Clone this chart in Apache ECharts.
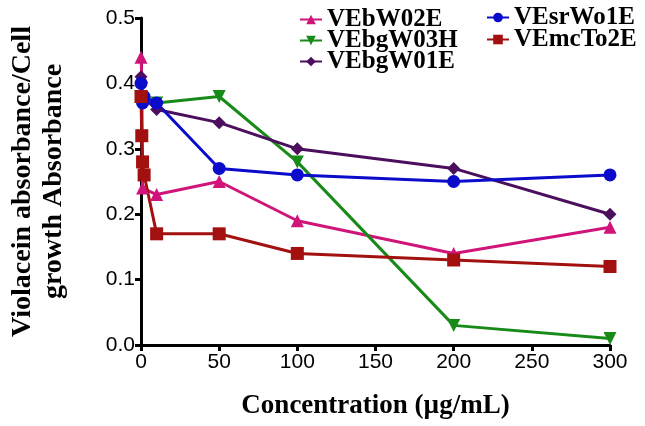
<!DOCTYPE html>
<html>
<head>
<meta charset="utf-8">
<script src="https://cdn.jsdelivr.net/npm/echarts@6/dist/echarts.min.js"></script>
<style>
html, body { margin: 0; padding: 0; background: #fff; }
#main { width: 645px; height: 426px; }
</style>
</head>
<body>
<div id="main"></div>
<script>
var xTicks = [0, 50, 100, 150, 200, 250, 300];
var yTicks = [0.0, 0.1, 0.2, 0.3, 0.4, 0.5];

// [concentration, ratio]
var vebw02e = [[0, 0.44], [0.5, 0.41], [1, 0.24], [10, 0.23], [50, 0.25], [100, 0.19], [200, 0.14], [300, 0.18]];
var vebgw03h = [[0, 0.38], [1, 0.37], [10, 0.37], [50, 0.38], [100, 0.28], [200, 0.03], [300, 0.01]];
var vebgw01e = [[0, 0.41], [1, 0.38], [10, 0.36], [50, 0.34], [100, 0.30], [200, 0.27], [300, 0.20]];
var vesrwo1e = [[0, 0.40], [1, 0.37], [2, 0.38], [10, 0.37], [50, 0.27], [100, 0.26], [200, 0.25], [300, 0.26]];
var vemcto2e = [[0, 0.38], [0.5, 0.32], [1, 0.28], [2, 0.26], [10, 0.17], [50, 0.17], [100, 0.14], [200, 0.13], [300, 0.12]];

var serif = '"Liberation Serif", "Times New Roman", serif';
var sans = '"Liberation Sans", Arial, sans-serif';

var myChart = echarts.init(document.getElementById('main'));

function line(name, data, color, symbol, rotate) {
    return {
        name: name,
        type: 'line',
        data: data,
        symbol: symbol,
        symbolSize: 13,
        symbolRotate: rotate || 0,
        lineStyle: { color: color, width: 3 },
        itemStyle: { color: color },
        animation: false
    };
}

var legendText = { fontFamily: serif, fontWeight: 'bold', fontSize: 25, color: '#000', lineHeight: 21 };

option = {
    backgroundColor: '#fff',
    grid: { left: 141, right: 35, top: 18, bottom: 81, outerBoundsMode: 'none' },
    legend: [
        {
            data: ['VEbW02E', 'VEbgW03H', 'VEbgW01E'],
            orient: 'vertical', left: 294, top: 2,
            itemGap: -4, itemWidth: 22, itemHeight: 12,
            textStyle: legendText
        },
        {
            data: ['VEsrWo1E', 'VEmcTo2E'],
            orient: 'vertical', left: 481, top: 0,
            itemGap: -3, itemWidth: 22, itemHeight: 12,
            textStyle: legendText
        }
    ],
    xAxis: {
        type: 'value',
        min: xTicks[0], max: xTicks[xTicks.length - 1], interval: 50,
        name: 'Concentration (µg/mL)',
        nameLocation: 'middle', nameGap: 48,
        nameTextStyle: { fontFamily: serif, fontWeight: 'bold', fontSize: 27, color: '#000' },
        axisLine: { lineStyle: { color: '#000', width: 3 } },
        axisTick: { length: 6, lineStyle: { color: '#000', width: 3 } },
        axisLabel: { fontFamily: sans, fontSize: 21, color: '#000', margin: 7 },
        splitLine: { show: false }
    },
    yAxis: {
        type: 'value',
        min: yTicks[0], max: yTicks[yTicks.length - 1], interval: 0.1,
        name: 'Violacein absorbance/Cell\ngrowth Absorbance',
        nameLocation: 'middle', nameGap: 72,
        nameTextStyle: { fontFamily: serif, fontWeight: 'bold', fontSize: 28, color: '#000', lineHeight: 31 },
        axisLine: { lineStyle: { color: '#000', width: 3 } },
        axisTick: { length: 6, lineStyle: { color: '#000', width: 3 } },
        axisLabel: {
            fontFamily: sans, fontSize: 21, color: '#000', margin: 6,
            formatter: function (v) { return v.toFixed(1); }
        },
        splitLine: { show: false }
    },
    series: [
        line('VEbW02E', vebw02e, '#d0157a', 'triangle'),
        line('VEbgW03H', vebgw03h, '#188a18', 'triangle', 180),
        line('VEbgW01E', vebgw01e, '#4b0f5e', 'diamond'),
        line('VEsrWo1E', vesrwo1e, '#0b0bcc', 'circle'),
        line('VEmcTo2E', vemcto2e, '#a31010', 'rect')
    ]
};
myChart.setOption(option, true);
</script>
</body>
</html>
